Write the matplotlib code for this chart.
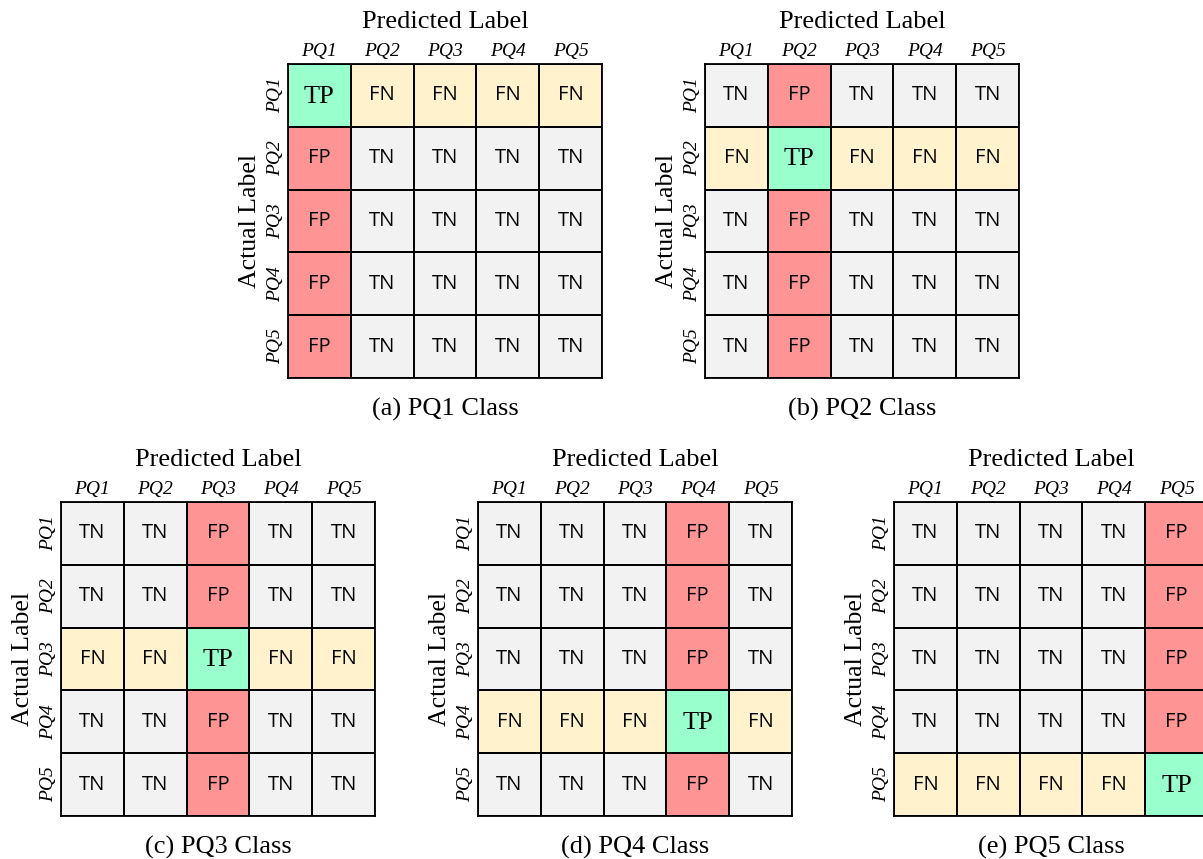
import matplotlib
matplotlib.use("Agg")
import matplotlib.pyplot as plt
from matplotlib.colors import ListedColormap
import numpy as np

classes = ["PQ1", "PQ2", "PQ3", "PQ4", "PQ5"]
captions = ["(a) PQ1 Class", "(b) PQ2 Class", "(c) PQ3 Class", "(d) PQ4 Class", "(e) PQ5 Class"]

matrix_a = [["TP", "FN", "FN", "FN", "FN"],
            ["FP", "TN", "TN", "TN", "TN"],
            ["FP", "TN", "TN", "TN", "TN"],
            ["FP", "TN", "TN", "TN", "TN"],
            ["FP", "TN", "TN", "TN", "TN"]]
matrix_b = [["TN", "FP", "TN", "TN", "TN"],
            ["FN", "TP", "FN", "FN", "FN"],
            ["TN", "FP", "TN", "TN", "TN"],
            ["TN", "FP", "TN", "TN", "TN"],
            ["TN", "FP", "TN", "TN", "TN"]]
matrix_c = [["TN", "TN", "FP", "TN", "TN"],
            ["TN", "TN", "FP", "TN", "TN"],
            ["FN", "FN", "TP", "FN", "FN"],
            ["TN", "TN", "FP", "TN", "TN"],
            ["TN", "TN", "FP", "TN", "TN"]]
matrix_d = [["TN", "TN", "TN", "FP", "TN"],
            ["TN", "TN", "TN", "FP", "TN"],
            ["TN", "TN", "TN", "FP", "TN"],
            ["FN", "FN", "FN", "TP", "FN"],
            ["TN", "TN", "TN", "FP", "TN"]]
matrix_e = [["TN", "TN", "TN", "TN", "FP"],
            ["TN", "TN", "TN", "TN", "FP"],
            ["TN", "TN", "TN", "TN", "FP"],
            ["TN", "TN", "TN", "TN", "FP"],
            ["FN", "FN", "FN", "FN", "TP"]]
matrices = [matrix_a, matrix_b, matrix_c, matrix_d, matrix_e]

cell_types = ["TP", "FN", "FP", "TN"]
cell_colors = ["#99FFCC", "#FFF2CC", "#FF9494", "#F2F2F2"]

W, H = 1203, 859
fig = plt.figure(figsize=(W / 100, H / 100), dpi=100)

# pixel boxes: (left, top)
boxes = [(288, 64), (705, 64), (61, 502), (478, 502), (894, 502)]
size_px = 314

serif = "Liberation Serif"
sans = "Open Sans"
cmap = ListedColormap(cell_colors)

for m, (left, top), cap in zip(matrices, boxes, captions):
    ax = fig.add_axes([left / W, (H - top - size_px) / H, size_px / W, size_px / H])
    codes = np.array([[cell_types.index(v) for v in row] for row in m])
    ax.pcolormesh(np.arange(6), np.arange(6), codes, cmap=cmap, vmin=-0.5, vmax=3.5,
                  edgecolors="black", linewidth=1.3)
    ax.set_xlim(0, 5)
    ax.set_ylim(5, 0)
    for i in range(5):
        for j in range(5):
            v = m[i][j]
            if v == "TP":
                ax.text(j + 0.5, i + 0.52, v, ha="center", va="center",
                        fontfamily=serif, fontsize=19)
            else:
                ax.text(j + 0.5, i + 0.5, v, ha="center", va="center",
                        fontfamily=sans, fontsize=14.5)
    ax.xaxis.tick_top()
    ax.set_xticks(np.arange(5) + 0.5)
    ax.set_xticklabels(classes, fontfamily=serif, fontstyle="italic", fontsize=14)
    ax.set_yticks(np.arange(5) + 0.5)
    ax.set_yticklabels(classes, fontfamily=serif, fontstyle="italic", fontsize=14,
                       rotation=90, va="center")
    ax.tick_params(length=0, pad=3)
    for s in ax.spines.values():
        s.set_linewidth(1.3)
    fig.text((left + size_px / 2) / W, (H - top + 42) / H, "Predicted Label",
             ha="center", va="center", fontfamily=serif, fontsize=19)
    fig.text((left - 38) / W, (H - top - size_px / 2) / H, "Actual Label",
             ha="center", va="center", rotation=90, fontfamily=serif, fontsize=18.5)
    fig.text((left + size_px / 2) / W, (H - top - size_px - 31) / H, cap,
             ha="center", va="center", fontfamily=serif, fontsize=19)

fig.savefig("out.png", dpi=100)
